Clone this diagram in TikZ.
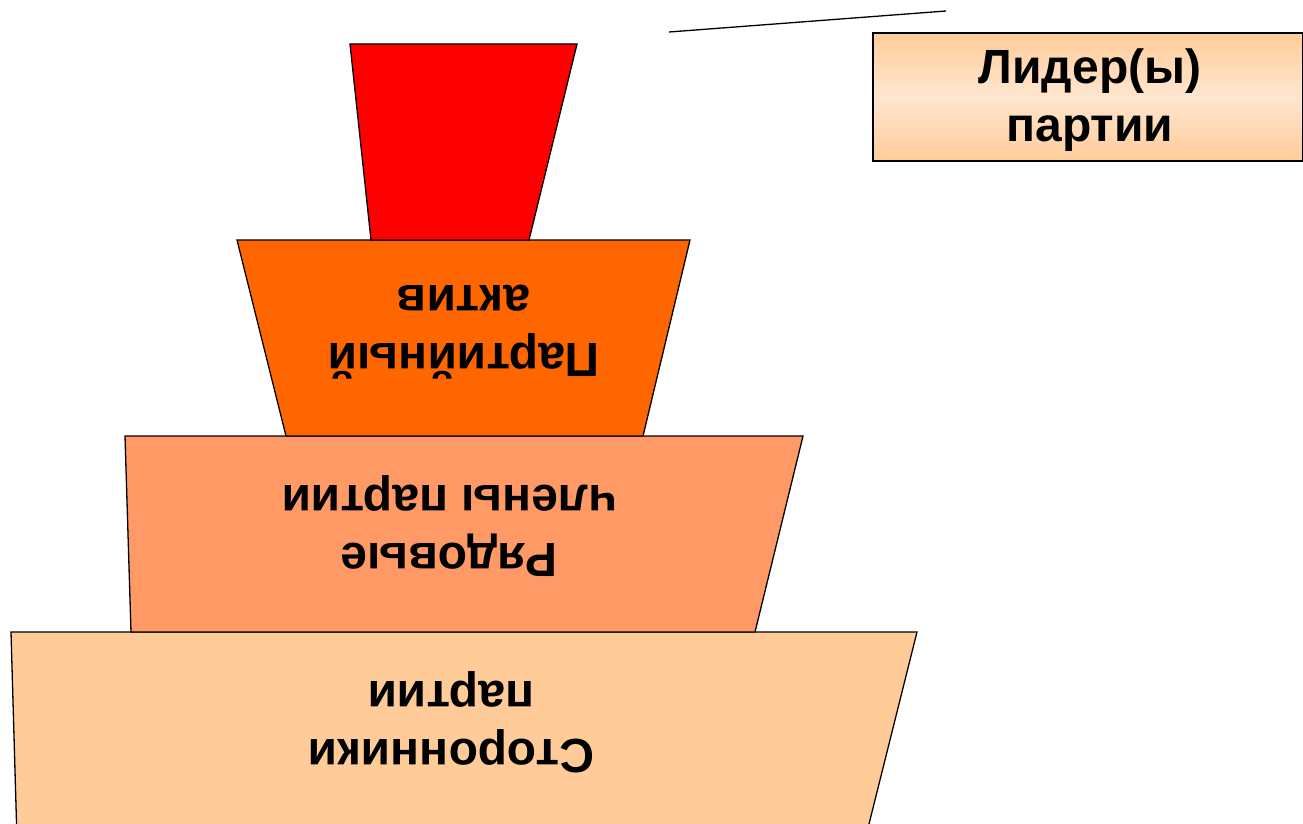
\documentclass[tikz,border=0pt]{standalone}
\usepackage{fontspec}
\setmainfont{Liberation Sans}
\definecolor{cRed}{HTML}{FF0000}
\definecolor{cOrange}{HTML}{FF6600}
\definecolor{cSalmon}{HTML}{FF9966}
\definecolor{cLight}{HTML}{FFCC99}
\definecolor{cPale}{HTML}{FFE6CF}
\tikzset{
  tier/.style={draw=black, line width=1.3pt, line join=miter},
  bigfont/.style={font=\fontsize{48}{58}\selectfont\bfseries},
  lbl/.style={bigfont, align=center, text=black, rotate=180, inner sep=0pt},
}
\begin{document}
\begin{tikzpicture}[x=1pt,y=-1pt]
\useasboundingbox (0,0) rectangle (1303,824);
\clip (0,0) rectangle (1303,824);
% bottom tier
\path[tier, fill=cLight] (11,632) -- (917,632) -- (865,840) -- (17,840) -- cycle;
\path[tier, fill=cSalmon] (125,436) -- (803,436) -- (755,632) -- (131,632) -- cycle;
\path[tier, fill=cOrange] (237,240) -- (690,240) -- (643,436) -- (286,436) -- cycle;
\path[tier, fill=cRed] (350,44) -- (577,44) -- (529,240) -- (371,240) -- cycle;
\node[lbl] (sup) at (451,722) {Сторонники\\партии};
\node[lbl] (rank) at (449,526) {Рядовые\\члены партии};
\node[lbl] (act) at (464,332) {Партийный\\актив};
% leader box
\shade[top color=cLight, bottom color=cLight, middle color=cPale] (873,33) rectangle (1303,161);
\draw[line width=1.3pt] (873,33) rectangle (1303,161);
\node[bigfont, align=center, inner sep=0pt] (lead) at (1090,100) {Лидер(ы)\\партии};
\coordinate (la) at (669,32);
\coordinate (lb) at (946,11);
\draw[line width=1.3pt] (la) -- (lb);
\end{tikzpicture}
\end{document}
